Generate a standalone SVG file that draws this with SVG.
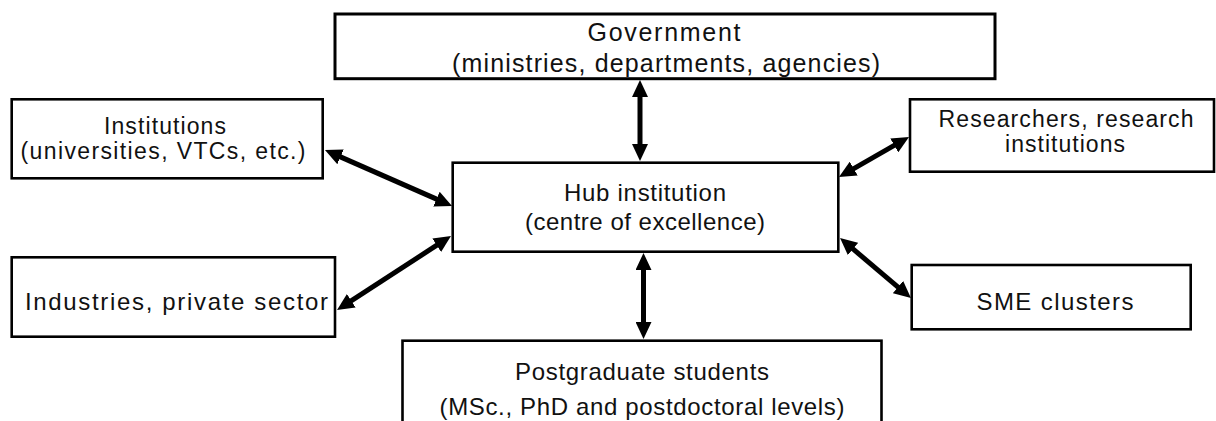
<svg xmlns="http://www.w3.org/2000/svg" width="1216" height="421" viewBox="0 0 1216 421">
  <style>
    .box { fill: #ffffff; stroke: #000000; stroke-width: 2.6; }
    .lbl { font-family: "Liberation Sans", Arial, Helvetica, sans-serif; fill: #111111; text-anchor: middle; }
    .s25 { font-size: 25px; }
    .s24 { font-size: 24px; }
    .s23 { font-size: 23px; }
    .link { fill: none; stroke: #000000; stroke-width: 5; marker-start: url(#head); marker-end: url(#head); }
  </style>
  <defs>
    <!-- solid triangular head; base sits slightly behind the shaft end -->
    <marker id="head" markerUnits="userSpaceOnUse" viewBox="0 0 17 16" markerWidth="17" markerHeight="16" refX="2" refY="8" orient="auto-start-reverse">
      <path d="M0,0 L17,8 L0,16 Z" fill="#000000"/>
    </marker>
  </defs>

  <rect width="1216" height="421" fill="#ffffff"/>

  <!-- two-headed connectors between the hub and its partners -->
  <g id="connectors">
    <line class="link" x1="640" y1="95" x2="640" y2="146"/>
    <line class="link" x1="643.5" y1="268" x2="643.5" y2="324"/>
    <line class="link" x1="338.7" y1="156.1" x2="438.3" y2="199.9"/>
    <line class="link" x1="349.6" y1="301.8" x2="438.4" y2="244.2"/>
    <line class="link" x1="852" y1="169.6" x2="896" y2="144.4"/>
    <line class="link" x1="851.5" y1="247.7" x2="899.5" y2="288.3"/>
  </g>

  <g id="government">
    <rect class="box" x="335" y="14" width="660" height="64.7" style="stroke-width:3"/>
    <text class="lbl s25" x="664" y="41" textLength="153" lengthAdjust="spacing">Government</text>
    <text class="lbl s25" x="666" y="72" textLength="428" lengthAdjust="spacing">(ministries, departments, agencies)</text>
  </g>

  <g id="institutions">
    <rect class="box" x="11.7" y="99.3" width="311" height="79"/>
    <text class="lbl s23" x="165" y="134" textLength="122" lengthAdjust="spacing">Institutions</text>
    <text class="lbl s23" x="163" y="159" textLength="285" lengthAdjust="spacing">(universities, VTCs, etc.)</text>
  </g>

  <g id="researchers">
    <rect class="box" x="910" y="99.3" width="304" height="72.4"/>
    <text class="lbl s23" x="1066" y="127" textLength="255" lengthAdjust="spacing">Researchers, research</text>
    <text class="lbl s23" x="1065" y="152" textLength="120" lengthAdjust="spacing">institutions</text>
  </g>

  <g id="hub">
    <rect class="box" x="452.7" y="162.7" width="385.6" height="89"/>
    <text class="lbl s24" x="645" y="201" textLength="162" lengthAdjust="spacing">Hub institution</text>
    <text class="lbl s24" x="645" y="230" textLength="240" lengthAdjust="spacing">(centre of excellence)</text>
  </g>

  <g id="industries">
    <rect class="box" x="11.7" y="257.3" width="323.3" height="79.4"/>
    <text class="lbl s24" x="176.5" y="310" textLength="303" lengthAdjust="spacing">Industries, private sector</text>
  </g>

  <g id="sme">
    <rect class="box" x="911.7" y="265" width="279" height="64.3"/>
    <text class="lbl s24" x="1055" y="310" textLength="157" lengthAdjust="spacing">SME clusters</text>
  </g>

  <g id="postgraduates">
    <rect class="box" x="402.5" y="340.7" width="479" height="100"/>
    <text class="lbl s24" x="642" y="380" textLength="254" lengthAdjust="spacing">Postgraduate students</text>
    <text class="lbl s24" x="642" y="415" textLength="405" lengthAdjust="spacing">(MSc., PhD and postdoctoral levels)</text>
  </g>
</svg>
